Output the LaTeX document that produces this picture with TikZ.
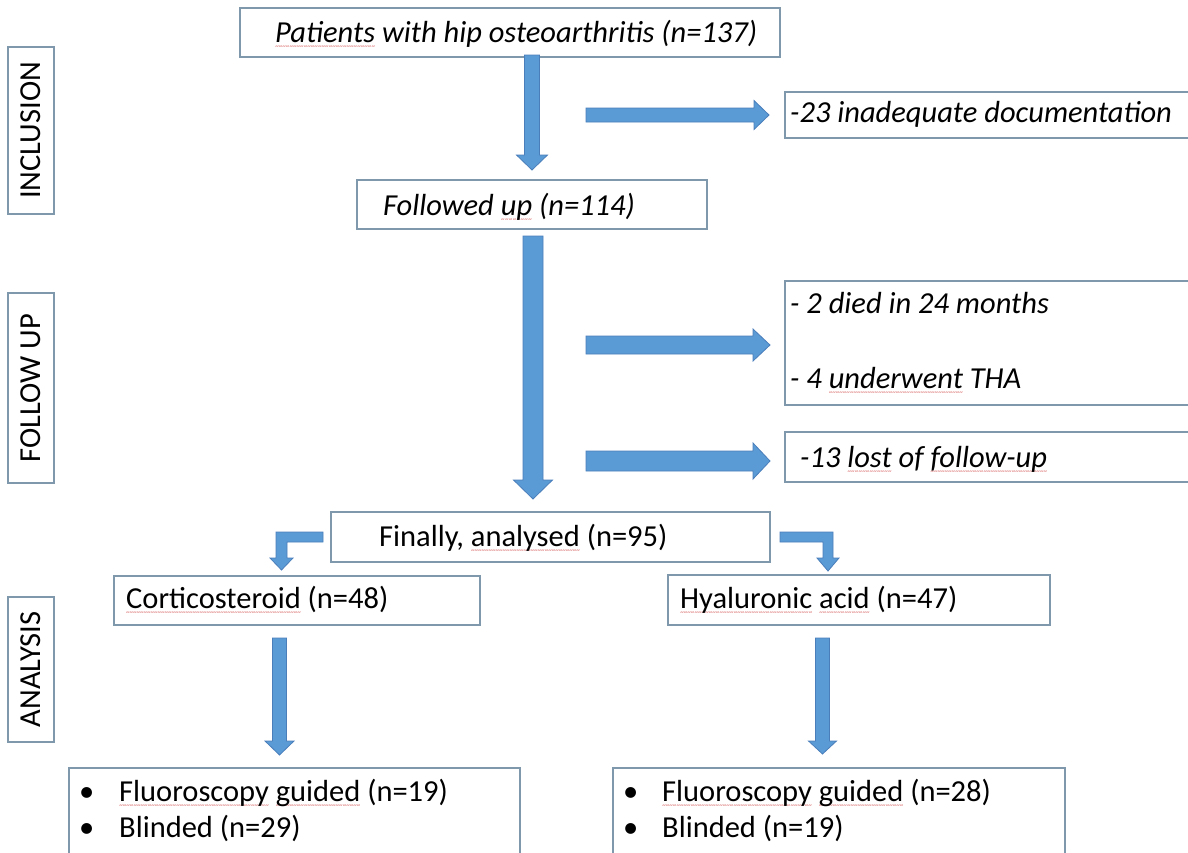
\documentclass[tikz,border=0pt]{standalone}
\usepackage{fontspec}
\setmainfont{Carlito}
\definecolor{arrfill}{HTML}{5B9BD5}
\definecolor{arrline}{HTML}{4A7EBB}
\definecolor{boxline}{HTML}{7F98AC}
\definecolor{spellred}{HTML}{D04040}
\newsavebox\splbox
\newcommand\spl[1]{\sbox\splbox{#1}\rlap{\raisebox{-6.5pt}[0pt][0pt]{\textcolor{spellred}{\hbox to \wd\splbox{\upshape\fontsize{7}{7}\selectfont\xleaders\hbox{\char`\~}\hfil}}}}\usebox\splbox}
\newcommand\darr[6]{% x, ytop, ytip, halfshaft, halfhead, headlen
  \draw[blockarrow] ({#1-#4},#2) -- ({#1+#4},#2) -- ({#1+#4},{#3-#6}) -- ({#1+#5},{#3-#6}) -- (#1,#3) -- ({#1-#5},{#3-#6}) -- ({#1-#4},{#3-#6}) -- cycle;}
\newcommand\rarr[6]{% y, xstart, xtip, halfshaft, halfhead, headlen
  \draw[blockarrow] (#2,{#1-#4}) -- ({#3-#6},{#1-#4}) -- ({#3-#6},{#1-#5}) -- (#3,#1) -- ({#3-#6},{#1+#5}) -- ({#3-#6},{#1+#4}) -- (#2,{#1+#4}) -- cycle;}
\tikzset{
  box/.style={draw=boxline, line width=1.3pt, fill=white, inner sep=0pt},
  lbl/.style={inner sep=0pt, anchor=mid west, font=\fontsize{30.5}{36}\selectfont},
  side/.style={inner sep=0pt, rotate=90, font=\fontsize{30.5}{36}\selectfont},
  blockarrow/.style={fill=arrfill, draw=arrline, line width=0.8pt, line join=miter},
}
\begin{document}
\begin{tikzpicture}[x=1pt,y=-1pt]
\useasboundingbox (0,0) rectangle (1188,852);
\fill[white] (0,0) rectangle (1188,852);
% boxes
\node[box, minimum width=540, minimum height=49] (top) at (510,32.5) {};
\node[box, minimum width=415, minimum height=46] (doc) at (992.5,115) {};
\node[box, minimum width=350, minimum height=49] (fol) at (532,204.5) {};
\node[box, minimum width=415, minimum height=124] (died) at (992.5,343) {};
\node[box, minimum width=415, minimum height=50] (lost) at (992.5,457) {};
\node[box, minimum width=439, minimum height=50] (fin) at (550.5,537) {};
\node[box, minimum width=366, minimum height=49] (cort) at (297,600.5) {};
\node[box, minimum width=382, minimum height=50] (hya) at (859,600) {};
\node[box, minimum width=451, minimum height=112] (bl) at (294.5,824) {};
\node[box, minimum width=452, minimum height=112] (br) at (839,824) {};
\node[box, minimum width=46, minimum height=167] (inc) at (31,130.5) {};
\node[box, minimum width=46, minimum height=190] (fu) at (31,388) {};
\node[box, minimum width=46, minimum height=145] (an) at (31,669.5) {};
% side labels
\node[side] (inct) at (inc.center) {INCLUSION};
\node[side] (fut) at (fu.center) {FOLLOW UP};
\node[side] (ant) at (an.center) {ANALYSIS};
% texts
\node[lbl] (topt) at (275,40) {\itshape \spl{Patients} with hip osteoarthritis (n=137)};
\node[lbl] (doct) at (790,120) {\itshape -23 inadequate documentation};
\node[lbl] (folt) at (383,213) {\itshape Followed \spl{up} (n=114)};
\node[lbl] (diedt) at (790,311) {\itshape - 2 died in 24 months};
\node[lbl] (that) at (790,386) {\itshape - 4 \spl{underwent} THA};
\node[lbl] (lostt) at (800,465) {\itshape -13 \spl{lost} of \spl{follow-up}};
\node[lbl] (fint) at (379,544) {Finally, \spl{analysed} (n=95)};
\node[lbl] (cortt) at (126,606) {\spl{Corticosteroid} (n=48)};
\node[lbl] (hyat) at (680,606) {\spl{Hyaluronic} \spl{acid} (n=47)};
\node[lbl] (bl1b) at (79,799) {•};
\node[lbl] (bl1) at (119,799) {\spl{Fluoroscopy} \spl{guided} (n=19)};
\node[lbl] (bl2b) at (79,835) {•};
\node[lbl] (bl2) at (119,835) {Blinded (n=29)};
\node[lbl] (br1b) at (623,799) {•};
\node[lbl] (br1) at (662,799) {\spl{Fluoroscopy} \spl{guided} (n=28)};
\node[lbl] (br2b) at (623,835) {•};
\node[lbl] (br2) at (662,835) {Blinded (n=19)};
% block arrows
\darr{532}{55}{170}{7.5}{15.5}{15}
\darr{533}{236}{499}{10}{19.5}{19}
\rarr{115}{586}{769}{7}{14.5}{15}
\rarr{345}{586}{770}{9}{16}{17}
\rarr{461}{586}{770}{10}{18}{17}
\darr{279.5}{638}{755}{7}{14.5}{14}
\darr{822.5}{638}{754}{7}{14}{13}
% elbow arrows
\draw[blockarrow] (323,532) -- (276,532) -- (276,558) -- (270,558) -- (281.5,570) -- (293,558) -- (287,558) -- (287,542) -- (323,542) -- cycle;
\draw[blockarrow] (780,532) -- (833,532) -- (833,558) -- (839,558) -- (828,571) -- (817,558) -- (823,558) -- (823,542) -- (780,542) -- cycle;
\end{tikzpicture}
\end{document}
